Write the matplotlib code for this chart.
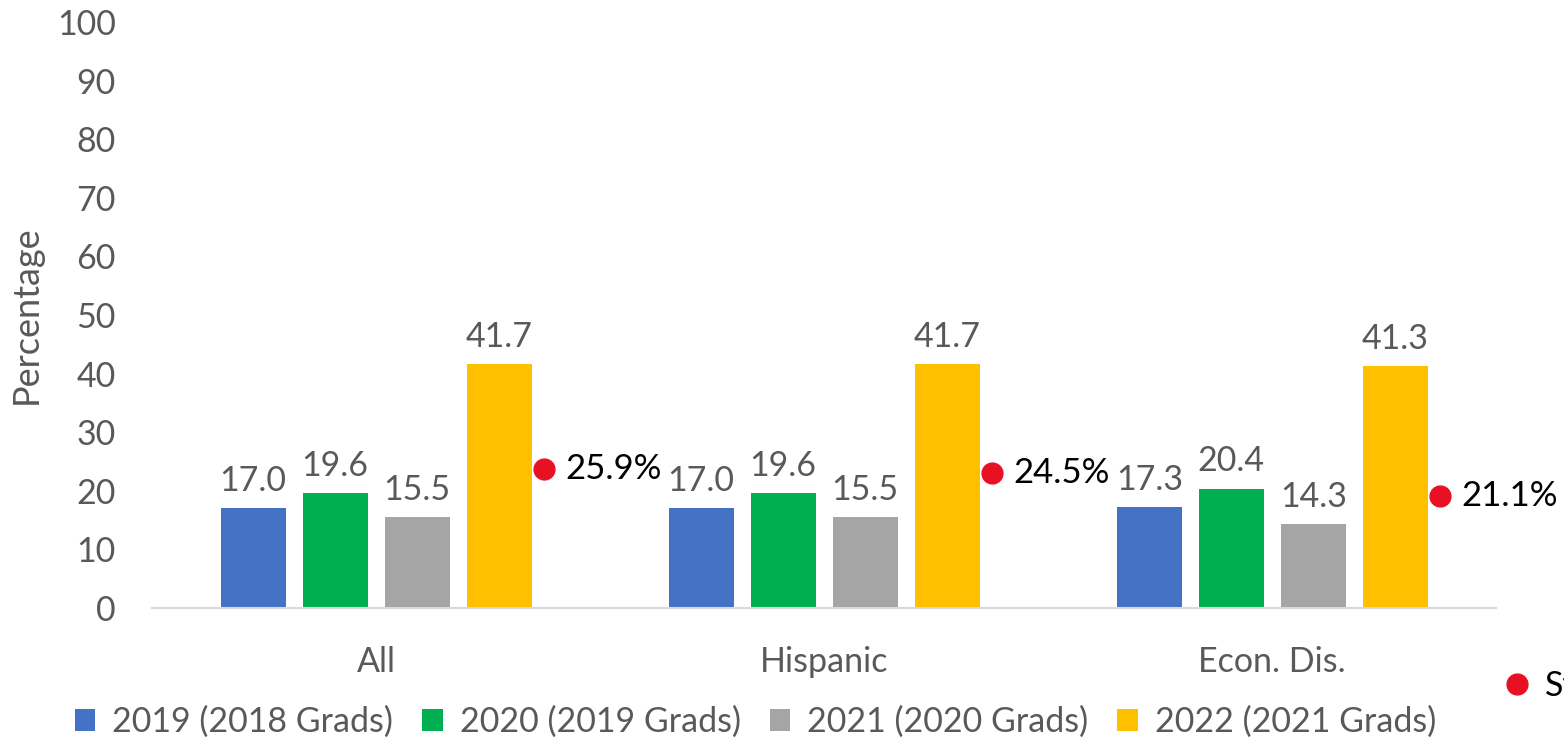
import matplotlib
matplotlib.use("Agg")
import matplotlib.pyplot as plt
import numpy as np
from matplotlib.lines import Line2D
from matplotlib.patches import Patch

plt.rcParams['font.family'] = ['Lato', 'DejaVu Sans']

categories = ["All", "Hispanic", "Econ. Dis."]
series_names = ["2019 (2018 Grads)", "2020 (2019 Grads)", "2021 (2020 Grads)", "2022 (2021 Grads)"]
values_2019 = [17.0, 17.0, 17.3]
values_2020 = [19.6, 19.6, 20.4]
values_2021 = [15.5, 15.5, 14.3]
values_2022 = [41.7, 41.7, 41.3]
state_labels = ["25.9%", "24.5%", "21.1%"]
state_marker_level = [23.7, 23.0, 19.1]
state_name = "State"

colors = ["#4472C4", "#00B050", "#A5A5A5", "#FFC000"]
red = "#E81123"
text_gray = "#595959"

fig = plt.figure(figsize=(15.64, 7.47), dpi=100)
ax = fig.add_axes([0.0972, 0.186, 0.8595, 0.7845])

x = np.arange(len(categories))
bar_w = 0.145
step = 0.183
all_series = [values_2019, values_2020, values_2021, values_2022]
for i, (vals, c, name) in enumerate(zip(all_series, colors, series_names)):
    pos = x + (i - 1.5) * step
    ax.bar(pos, vals, width=bar_w, color=c, label=name, zorder=2)
    for px, v in zip(pos, vals):
        ax.annotate(f"{v:.1f}", (px, v), xytext=(0, 8), textcoords="offset points",
                    ha="center", va="bottom", fontsize=24.5, color=text_gray)

dot_x = x + 0.375
ax.plot(dot_x, state_marker_level, linestyle="none", marker="o", markersize=15,
        color=red, label=state_name, zorder=3)
for dx, dy, lab in zip(dot_x, state_marker_level, state_labels):
    ax.annotate(lab, (dx, dy), xytext=(15, 0), textcoords="offset points",
                ha="left", va="center", fontsize=25, color="black")

ax.set_xlim(-0.5, len(categories) - 0.5)
ax.set_ylim(0, 100)
ax.set_yticks(np.arange(0, 101, 10))
ax.set_xticks(x)
ax.set_xticklabels(categories)
ax.tick_params(axis="both", length=0, labelsize=24.5, labelcolor=text_gray)
ax.tick_params(axis="x", pad=27)
ax.tick_params(axis="y", pad=26)
for s in ["top", "right", "left"]:
    ax.spines[s].set_visible(False)
ax.spines["bottom"].set_color("#D9D9D9")
ax.spines["bottom"].set_linewidth(1.5)
ax.set_ylabel("Percentage", fontsize=26, color=text_gray)
ax.yaxis.set_label_coords(-0.081, 0.5)

handles = [Patch(facecolor=c, edgecolor="none") for c in colors]
fig.legend(handles, series_names, loc="center", bbox_to_anchor=(0.483, 0.034),
           ncol=4, frameon=False, fontsize=24.5, handlelength=0.6, handleheight=0.6,
           handletextpad=0.5, columnspacing=0.85, labelcolor=text_gray)

state_handle = Line2D([], [], linestyle="none", marker="o", markersize=15, color=red)
fig.legend([state_handle], [state_name], loc="center left", bbox_to_anchor=(0.944, 0.082),
           frameon=False, fontsize=24.5, handlelength=0.6, handletextpad=0.5, labelcolor="black")

fig.savefig("out.png", dpi=100)
